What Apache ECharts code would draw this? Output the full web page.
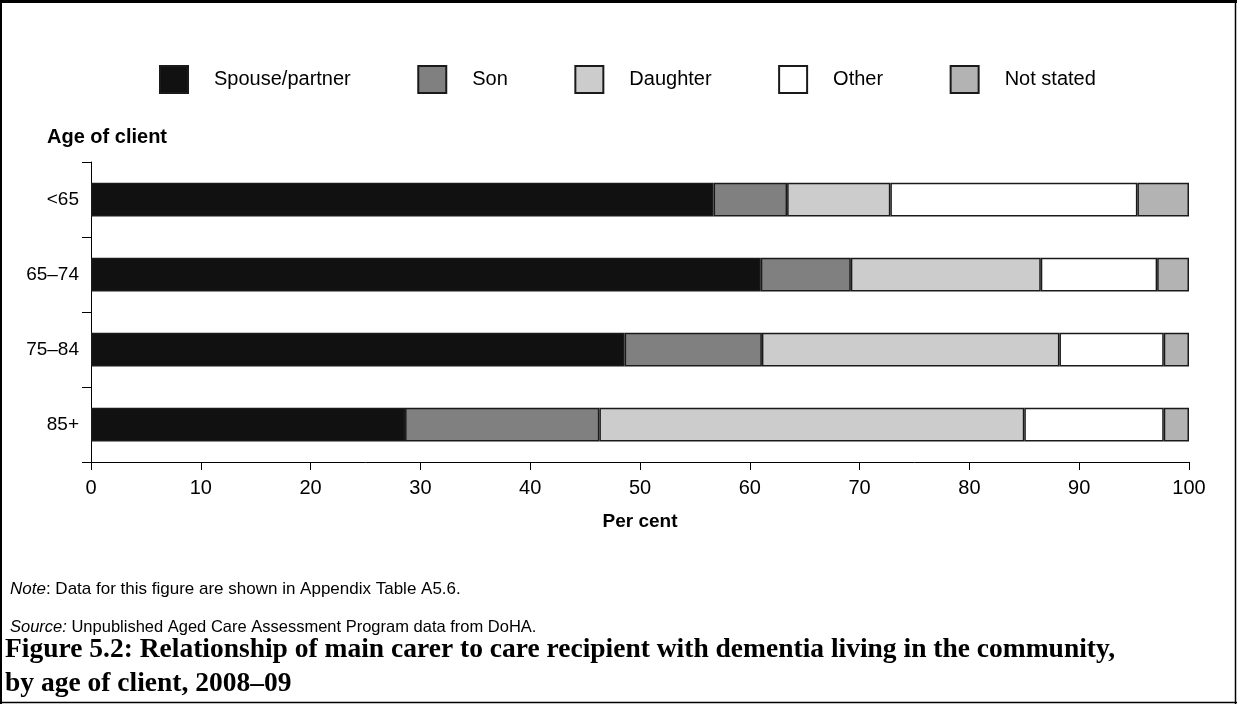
<!DOCTYPE html>
<html>
<head>
<meta charset="utf-8">
<script src="https://cdn.jsdelivr.net/npm/echarts@6/dist/echarts.min.js"></script>
<style>
html,body{margin:0;padding:0;background:#fff;}
#chart{width:1237px;height:704px;}
</style>
</head>
<body>
<div id="chart"></div>
<script>
const categories = ['<65', '65–74', '75–84', '85+'];
const seriesNames = ['Spouse/partner', 'Son', 'Daughter', 'Other', 'Not stated'];
const spousePartner = [56.7, 61.0, 48.6, 28.6];
const son = [6.7, 8.2, 12.5, 17.7];
const daughter = [9.4, 17.3, 27.1, 38.7];
const other = [22.5, 10.6, 9.5, 12.7];
const notStated = [4.7, 2.9, 2.3, 2.3];
const xTicks = [0, 10, 20, 30, 40, 50, 60, 70, 80, 90, 100];

const colors = ['#111111', '#808080', '#cccccc', '#ffffff', '#b3b3b3'];
const values = [spousePartner, son, daughter, other, notStated];
const FONT = '"Liberation Sans", Arial, sans-serif';

const chart = echarts.init(document.getElementById('chart'), null, {renderer: 'canvas'});
chart.setOption({
  animation: false,
  backgroundColor: '#fff',
  color: colors,
  legend: {
    left: 154,
    top: 60,
    itemWidth: 28,
    itemHeight: 27,
    itemGap: 66.5,
    icon: 'rect',
    data: seriesNames,
    textStyle: {fontFamily: FONT, fontSize: 20, color: '#000', padding: [0, 0, 0, 21]}
  },
  grid: {left: 91, right: 48, top: 162, bottom: 242, containLabel: false},
  xAxis: {
    type: 'value',
    min: xTicks[0],
    max: xTicks[xTicks.length - 1],
    interval: 10,
    name: 'Per cent',
    nameLocation: 'middle',
    nameGap: 50,
    nameTextStyle: {fontFamily: FONT, fontSize: 19, fontWeight: 'bold', color: '#000'},
    axisLine: {show: true, lineStyle: {color: '#000', width: 1}},
    axisTick: {show: true, length: 8, lineStyle: {color: '#000'}},
    axisLabel: {fontFamily: FONT, fontSize: 20, color: '#000', margin: 16},
    splitLine: {show: false}
  },
  yAxis: {
    type: 'category',
    inverse: true,
    data: categories,
    axisLine: {show: true, lineStyle: {color: '#000', width: 1}},
    axisTick: {show: true, length: 9, lineStyle: {color: '#000'}},
    axisLabel: {fontFamily: FONT, fontSize: 19, color: '#000', margin: 12}
  },
  series: seriesNames.map((name, i) => ({
    name: name,
    type: 'bar',
    stack: 'total',
    barWidth: '45%',
    data: values[i],
    itemStyle: {color: colors[i], borderColor: '#1a1a1a', borderWidth: 1.5}
  })),
  graphic: [
    {type: 'text', left: 47, top: 127, style: {text: 'Age of client', fontFamily: FONT, fontSize: 20, fontWeight: 'bold', fill: '#000'}},
    {type: 'text', left: 10, top: 581, style: {
      text: '{i|Note}{n|: Data for this figure are shown in Appendix Table A5.6.}',
      rich: {i: {fontFamily: FONT, fontSize: 17, fontStyle: 'italic', fill: '#000'}, n: {fontFamily: FONT, fontSize: 17, fill: '#000'}}
    }},
    {type: 'text', left: 10, top: 619, style: {
      text: '{i|Source:}{n| Unpublished Aged Care Assessment Program data from DoHA.}',
      rich: {i: {fontFamily: FONT, fontSize: 16.5, fontStyle: 'italic', fill: '#000'}, n: {fontFamily: FONT, fontSize: 16.5, fill: '#000'}}
    }},
    {type: 'text', left: 5, top: 633, style: {
      text: 'Figure 5.2: Relationship of main carer to care recipient with dementia living in the community,\nby age of client, 2008–09',
      fontFamily: '"Liberation Serif", "Times New Roman", serif', fontSize: 27.5, fontWeight: 'bold', fill: '#000', lineHeight: 34
    }},
    {type: 'line', shape: {x1: 0, y1: 1.5, x2: 1237, y2: 1.5}, style: {stroke: '#000', lineWidth: 3}},
    {type: 'line', shape: {x1: 1, y1: 0, x2: 1, y2: 704}, style: {stroke: '#000', lineWidth: 2}},
    {type: 'line', shape: {x1: 1235.5, y1: 0, x2: 1235.5, y2: 704}, style: {stroke: '#000', lineWidth: 1.5}},
    {type: 'line', shape: {x1: 0, y1: 702.5, x2: 1237, y2: 702.5}, style: {stroke: '#000', lineWidth: 1.5}}
  ]
});
</script>
</body>
</html>
